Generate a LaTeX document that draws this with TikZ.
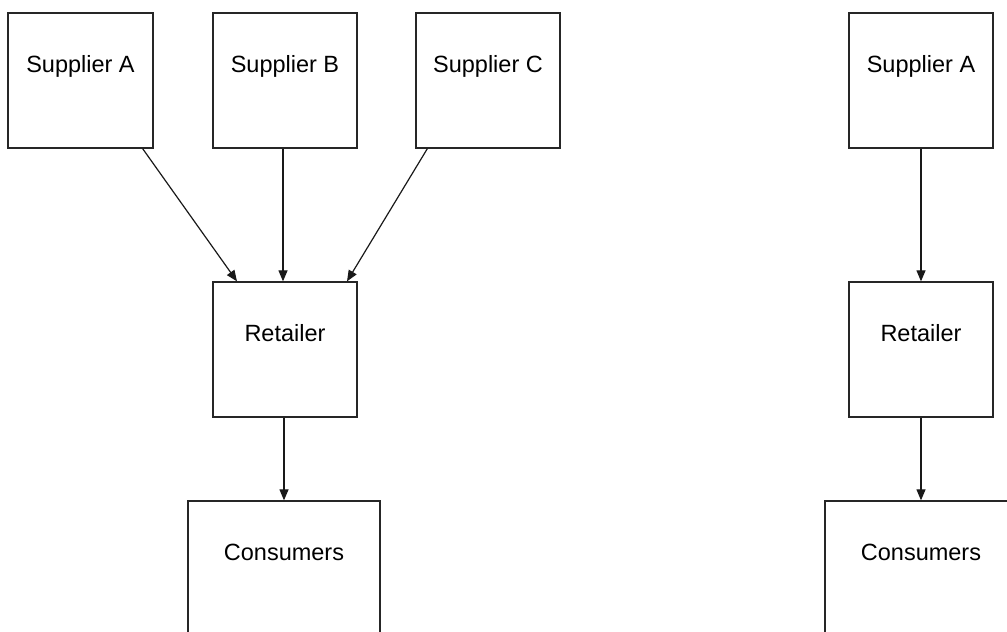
\documentclass[tikz,border=0pt]{standalone}
\usepackage{fontspec}
\setmainfont{Liberation Sans}
\usetikzlibrary{arrows.meta}
\tikzset{
  boxnode/.style={draw=black!85, line width=1.3pt, inner sep=0pt, minimum height=135pt,
    font=\fontsize{23.5}{28}\selectfont, text height=17pt, text depth=32.6pt},
  conn/.style={draw=black!90, line width=1.2pt, -{Triangle[length=11pt,width=9pt]}}
}
\begin{document}
\begin{tikzpicture}[x=1pt,y=-1pt]
\useasboundingbox (0,0) rectangle (1007,632);
\node[boxnode, minimum width=145pt] (sa) at (80.5,80.5) {Supplier A};
\node[boxnode, minimum width=144pt] (sb) at (285,80.5) {Supplier B};
\node[boxnode, minimum width=144pt] (sc) at (488,80.5) {Supplier C};
\node[boxnode, minimum width=144pt] (r) at (285,349.5) {Retailer};
\node[boxnode, minimum width=192pt] (c) at (284,568.5) {Consumers};
\node[boxnode, minimum width=144pt] (sa2) at (921,80.5) {Supplier A};
\node[boxnode, minimum width=144pt] (r2) at (921,349.5) {Retailer};
\node[boxnode, minimum width=192pt] (c2) at (921,568.5) {Consumers};
\draw[conn] ([xshift=-11pt]sa.south east) -- ([xshift=-48pt]r.north);
\draw[conn] ([xshift=-2pt]sb.south) -- ([xshift=-2pt]r.north);
\draw[conn] ([xshift=12pt]sc.south west) -- ([xshift=62pt]r.north);
\draw[conn] ([xshift=-1pt]r.south) -- (c.north);
\draw[conn] (sa2.south) -- (r2.north);
\draw[conn] (r2.south) -- (c2.north);
\end{tikzpicture}
\end{document}
